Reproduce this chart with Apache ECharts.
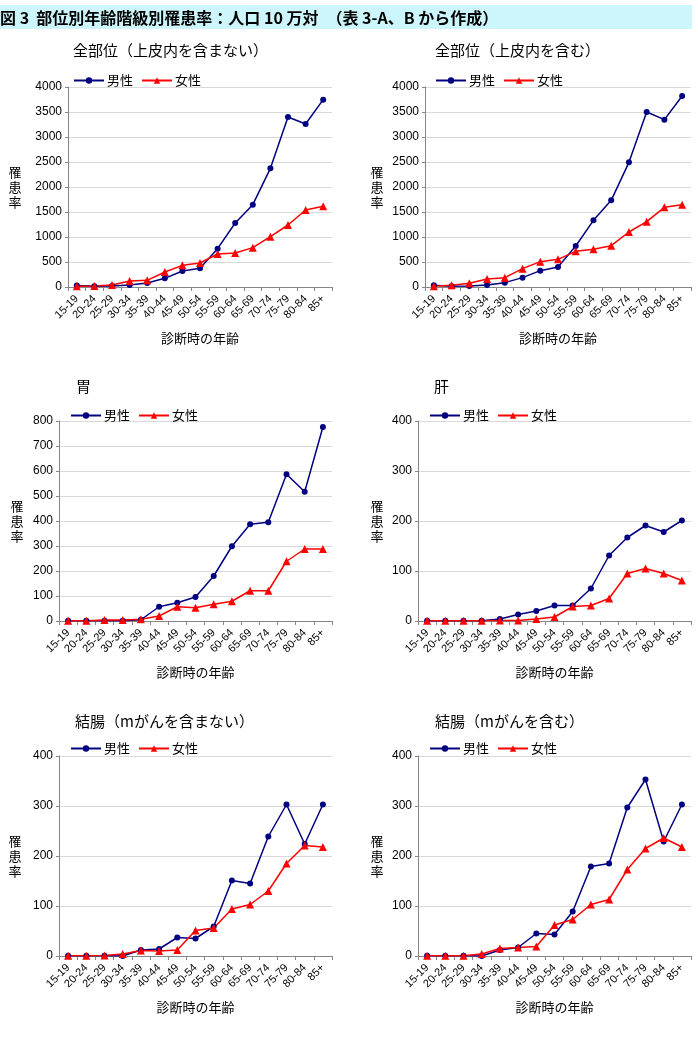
<!DOCTYPE html>
<html>
<head>
<meta charset="utf-8">
<script src="https://cdn.jsdelivr.net/npm/echarts@6/dist/echarts.min.js"></script>
<style>
  html, body { margin: 0; padding: 0; background: #fff; }
  #main { width: 698px; height: 1040px; }
</style>
</head>
<body>
<div id="main"></div>
<script>
// 年齢階級
var ages = ['15-19','20-24','25-29','30-34','35-39','40-44','45-49','50-54','55-59','60-64','65-69','70-74','75-79','80-84','85+'];

// 全部位（上皮内を含まない）
var allExMale   = [30, 15, 20, 40, 80, 173, 320, 373, 767, 1280, 1647, 2373, 3400, 3260, 3747];
var allExFemale = [13, 20, 40, 120, 133, 300, 433, 480, 660, 680, 787, 1007, 1240, 1540, 1613];
// 全部位（上皮内を含む）
var allInMale   = [33, 13, 20, 40, 87, 187, 327, 400, 820, 1333, 1733, 2493, 3500, 3347, 3820];
var allInFemale = [13, 33, 73, 160, 187, 367, 507, 553, 713, 753, 827, 1100, 1307, 1593, 1647];
// 胃
var stomachMale   = [1, 1, 1, 1, 5, 57, 73, 96, 180, 299, 387, 395, 587, 517, 776];
var stomachFemale = [1, 1, 4, 4, 7, 20, 57, 53, 67, 79, 121, 121, 239, 288, 288];
// 肝
var liverMale   = [0.5, 0.5, 0.5, 0.5, 4, 13, 20, 31, 31, 65, 131, 167, 191, 178, 201];
var liverFemale = [0.5, 0.5, 0.5, 0.5, 1, 1, 4, 8, 29, 31, 45, 95, 105, 95, 81];
// 結腸（mがんを含まない）
var colonExMale   = [0.5, 0.5, 0.5, 0, 12, 14, 37, 35, 59, 151, 145, 239, 303, 224, 303];
var colonExFemale = [0.5, 0.5, 1, 4, 11, 10, 12, 51, 56, 94, 103, 130, 185, 221, 218];
// 結腸（mがんを含む）
var colonInMale   = [0.5, 0.5, 0.5, 0, 12, 17, 45, 43, 89, 179, 185, 297, 353, 229, 303];
var colonInFemale = [0.5, 0.5, 0.5, 4, 15, 17, 19, 62, 73, 103, 113, 173, 215, 236, 218];

var chartTitles = ['全部位（上皮内を含まない）', '全部位（上皮内を含む）', '胃', '肝', '結腸（mがんを含まない）', '結腸（mがんを含む）'];
var maleData   = [allExMale, allInMale, stomachMale, liverMale, colonExMale, colonInMale];
var femaleData = [allExFemale, allInFemale, stomachFemale, liverFemale, colonExFemale, colonInFemale];
var yMax      = [4000, 4000, 800, 400, 400, 400];
var yInterval = [500, 500, 100, 100, 100, 100];

var jp = '"Noto Sans CJK JP", sans-serif';
var num = '"Liberation Sans", Arial, sans-serif';

// 各グラフの配置
var grids = [
  { left: 68,  top: 87,  width: 264, height: 200 },
  { left: 425, top: 87,  width: 266, height: 200 },
  { left: 59,  top: 421, width: 273, height: 200 },
  { left: 418, top: 421, width: 273, height: 200 },
  { left: 59,  top: 756, width: 273, height: 200 },
  { left: 418, top: 756, width: 273, height: 200 }
];
var titlePos  = [[68, 38], [430, 38], [71, 374], [429, 374], [70, 709], [430, 709]];
var legendPos = [[68, 69], [430, 69], [65, 404], [424, 404], [65, 737], [424, 737]];
var nameGapY  = [53, 48, 42, 41, 44, 41];

var myChart = echarts.init(document.getElementById('main'));

var option = {
  animation: false,
  textStyle: { fontFamily: jp },
  graphic: [
    { type: 'rect', shape: { x: 0, y: 5, width: 692, height: 24 }, style: { fill: '#ccf6fb' } },
    { type: 'text', x: 0, y: 18, style: {
        text: '図 3  部位別年齢階級別罹患率：人口 10 万対　（表 3-A、B から作成）',
        font: 'bold 16px ' + jp, fill: '#000', verticalAlign: 'middle' } }
  ],
  title: [],
  legend: [],
  grid: [],
  xAxis: [],
  yAxis: [],
  series: []
};

for (var i = 0; i < 6; i++) {
  option.title.push({
    text: chartTitles[i], left: titlePos[i][0], top: titlePos[i][1],
    textStyle: { fontFamily: jp, fontSize: 15, fontWeight: 'normal', color: '#000' }
  });
  option.legend.push({
    data: ['男性', '女性'], left: legendPos[i][0], top: legendPos[i][1],
    itemWidth: 30, itemHeight: 8, itemGap: 8, selectedMode: false,
    textStyle: { fontFamily: jp, fontSize: 13, color: '#000', padding: [0, 0, 0, -2] }
  });
  option.grid.push(grids[i]);
  option.xAxis.push({
    type: 'category', gridIndex: i, data: ages, boundaryGap: true,
    name: '診断時の年齢', nameLocation: 'middle', nameGap: 45,
    nameTextStyle: { fontFamily: jp, fontSize: 13, color: '#000' },
    axisLine: { lineStyle: { color: '#868686' } },
    axisTick: { show: true, length: 4, interval: 0, lineStyle: { color: '#868686' } },
    axisLabel: { interval: 0, rotate: 45, fontFamily: num, fontSize: 11, color: '#000', margin: 10 },
    splitLine: { show: false }
  });
  option.yAxis.push({
    type: 'value', gridIndex: i, min: 0, max: yMax[i], interval: yInterval[i],
    name: '罹\n患\n率', nameLocation: 'middle', nameRotate: 0, nameGap: nameGapY[i],
    nameTextStyle: { fontFamily: jp, fontSize: 13, color: '#000', align: 'center', verticalAlign: 'middle', lineHeight: 15 },
    axisLine: { show: true, lineStyle: { color: '#868686' } },
    axisTick: { show: true, length: 3, lineStyle: { color: '#868686' } },
    axisLabel: { fontFamily: num, fontSize: 12, color: '#000', margin: 6, formatter: function (v) { return String(v); } },
    splitLine: { show: true, lineStyle: { color: '#d9d9d9' } }
  });
  option.series.push({
    name: '男性', type: 'line', xAxisIndex: i, yAxisIndex: i, data: maleData[i],
    symbol: 'circle', symbolSize: 6,
    lineStyle: { color: '#000080', width: 1.5 }, itemStyle: { color: '#000080' }
  });
  option.series.push({
    name: '女性', type: 'line', xAxisIndex: i, yAxisIndex: i, data: femaleData[i],
    symbol: 'triangle', symbolSize: 8,
    lineStyle: { color: '#ff0000', width: 1.5 }, itemStyle: { color: '#ff0000' }
  });
}

myChart.setOption(option);
</script>
</body>
</html>
